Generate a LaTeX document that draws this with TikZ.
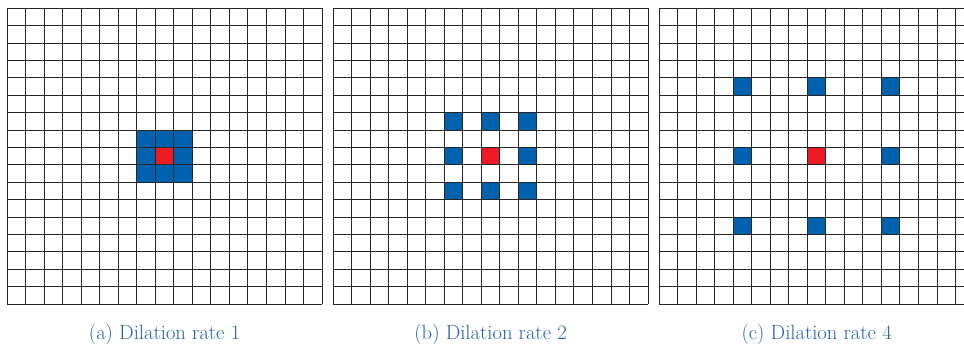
\documentclass[tikz,border=0pt]{standalone}
\usepackage{fontspec}
\usepackage{xcolor}
\usetikzlibrary{positioning}
\definecolor{cellblue}{RGB}{0,98,175}
\definecolor{cellred}{RGB}{237,28,36}
\definecolor{capblue}{RGB}{36,96,176}

\begin{document}
\begin{tikzpicture}[x=1pt, y=-1pt,
  gridline/.style={draw=black!85, line width=0.9pt},
  kernel/.style={fill=cellblue},
  centre/.style={fill=cellred},
  caption/.style={text=capblue, font=\fontsize{20.6}{24}\selectfont, anchor=base, inner sep=0pt}]
\clip (0,0) rectangle (964,347);
% three panels: offset / dilation rate / label
\foreach \p/\r/\lbl in {0/1/a, 1/2/b, 2/4/c} {
  \begin{scope}[shift={(\p*326+7.3,8.3)}, x=18.51pt, y=-17.4pt]
    % sampled positions of the 3x3 kernel
    \foreach \i in {-1,0,1}
      \foreach \j in {-1,0,1}
        \fill[kernel] (8+\i*\r,8+\j*\r) rectangle ++(1,1);
    \fill[centre] (8,8) rectangle ++(1,1);
    % 17x17 grid
    \foreach \k in {0,...,17} {
      \draw[gridline] (\k,0) -- (\k,17);
      \draw[gridline] (0,\k) -- (17,\k);
    }
    \node[caption] (cap-\lbl) at (8.5,19.02) {(\lbl) Dilation rate \r};
  \end{scope}
}
\end{tikzpicture}
\end{document}
